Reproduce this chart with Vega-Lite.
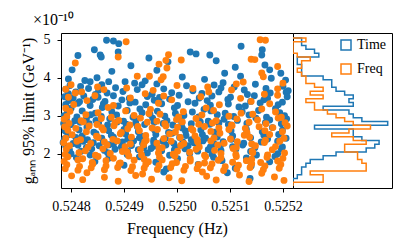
{
"$schema":"https://vega.github.io/schema/vega-lite/v6.json",
"padding":{"left":19,"top":11,"right":17,"bottom":5},
"background":"white",
"spacing":0,
"bounds":"flush",
"config":{"font":"Liberation Serif","view":{"stroke":"black","strokeWidth":1},
"axis":{"domain":false,"grid":false,"labelFont":"Liberation Serif","labelFontSize":14,"labelColor":"black","tickColor":"black","tickSize":4,"tickWidth":1,"labelPadding":7,"titleFont":"Liberation Serif","titleFontSize":16,"titleFontWeight":"normal","titleColor":"black","titlePadding":7},
"concat":{"spacing":0}},
"datasets":{
"pts":[
{"s":"Time","f":0.524867,"g":4.99},{"s":"Time","f":0.52488,"g":4.97},{"s":"Time","f":0.52489,"g":4.9},{"s":"Time","f":0.524844,"g":4.74},{"s":"Time","f":0.524855,"g":4.6},{"s":"Time","f":0.524857,"g":4.55},{"s":"Time","f":0.524889,"g":4.68},{"s":"Time","f":0.524813,"g":4.59},{"s":"Time","f":0.525025,"g":4.68},{"s":"Time","f":0.525036,"g":4.63},{"s":"Time","f":0.525121,"g":4.83},{"s":"Time","f":0.525161,"g":4.74},{"s":"Time","f":0.52516,"g":4.6},{"s":"Time","f":0.525062,"g":4.6},{"s":"Time","f":0.525074,"g":4.45},{"s":"Time","f":0.524947,"g":4.52},{"s":"Time","f":0.524802,"g":4.21},{"s":"Time","f":0.524877,"g":4.17},{"s":"Time","f":0.524913,"g":4.32},{"s":"Time","f":0.524962,"g":4.2},{"s":"Time","f":0.524983,"g":4.42},{"s":"Time","f":0.52511,"g":4.28},{"s":"Time","f":0.525166,"g":4.34},{"s":"Time","f":0.525175,"g":4.21},{"s":"Time","f":0.525196,"g":4.12},{"s":"Time","f":0.52509,"g":4.12},{"s":"Time","f":0.524849,"g":4.0},
{"s":"Time","f":0.524826,"g":3.93},{"s":"Time","f":0.524836,"g":3.9},{"s":"Time","f":0.524871,"g":3.9},{"s":"Time","f":0.524902,"g":3.9},{"s":"Time","f":0.52494,"g":3.92},{"s":"Time","f":0.52501,"g":4.02},{"s":"Time","f":0.525087,"g":3.87},{"s":"Time","f":0.52512,"g":4.04},{"s":"Time","f":0.525178,"g":3.99},{"s":"Time","f":0.525205,"g":3.94},{"s":"Time","f":0.525052,"g":3.96},{"s":"Time","f":0.524795,"g":3.97},{"s":"Time","f":0.52492,"g":3.86},
{"s":"Time","f":0.524798,"g":3.8},{"s":"Time","f":0.524818,"g":3.77},{"s":"Time","f":0.524858,"g":3.82},{"s":"Time","f":0.524934,"g":3.82},{"s":"Time","f":0.524962,"g":3.84},{"s":"Time","f":0.525018,"g":3.79},{"s":"Time","f":0.52507,"g":3.81},{"s":"Time","f":0.525108,"g":3.76},{"s":"Time","f":0.525148,"g":3.83},{"s":"Time","f":0.5252,"g":3.78},
{"s":"Time","f":0.52479,"g":3.7},{"s":"Time","f":0.524833,"g":3.72},{"s":"Time","f":0.524852,"g":3.67},{"s":"Time","f":0.524884,"g":3.74},{"s":"Time","f":0.524925,"g":3.69},{"s":"Time","f":0.524975,"g":3.71},{"s":"Time","f":0.52503,"g":3.66},{"s":"Time","f":0.525083,"g":3.73},{"s":"Time","f":0.525127,"g":3.68},{"s":"Time","f":0.525168,"g":3.72},{"s":"Time","f":0.52521,"g":3.66},
{"s":"Time","f":0.524795,"g":3.58},{"s":"Time","f":0.524809,"g":3.63},{"s":"Time","f":0.524846,"g":3.56},{"s":"Time","f":0.524868,"g":3.6},{"s":"Time","f":0.524898,"g":3.64},{"s":"Time","f":0.524953,"g":3.57},{"s":"Time","f":0.52499,"g":3.61},{"s":"Time","f":0.525047,"g":3.59},{"s":"Time","f":0.525079,"g":3.63},{"s":"Time","f":0.525133,"g":3.56},{"s":"Time","f":0.525176,"g":3.6},{"s":"Time","f":0.525206,"g":3.62},
{"s":"Time","f":0.524788,"g":3.5},{"s":"Time","f":0.524804,"g":3.47},{"s":"Time","f":0.524824,"g":3.52},{"s":"Time","f":0.524851,"g":3.49},{"s":"Time","f":0.52488,"g":3.53},{"s":"Time","f":0.52491,"g":3.46},{"s":"Time","f":0.524944,"g":3.51},{"s":"Time","f":0.524967,"g":3.48},{"s":"Time","f":0.525004,"g":3.54},{"s":"Time","f":0.525042,"g":3.47},{"s":"Time","f":0.525066,"g":3.52},{"s":"Time","f":0.525101,"g":3.49},{"s":"Time","f":0.525146,"g":3.53},{"s":"Time","f":0.525171,"g":3.46},{"s":"Time","f":0.525208,"g":3.5},
{"s":"Time","f":0.524796,"g":3.4},{"s":"Time","f":0.524816,"g":3.37},{"s":"Time","f":0.524841,"g":3.43},{"s":"Time","f":0.524864,"g":3.38},{"s":"Time","f":0.524896,"g":3.42},{"s":"Time","f":0.524921,"g":3.36},{"s":"Time","f":0.524957,"g":3.41},{"s":"Time","f":0.524986,"g":3.44},{"s":"Time","f":0.525021,"g":3.37},{"s":"Time","f":0.525057,"g":3.4},{"s":"Time","f":0.525096,"g":3.43},{"s":"Time","f":0.525139,"g":3.38},{"s":"Time","f":0.525164,"g":3.42},{"s":"Time","f":0.525199,"g":3.36},
{"s":"Time","f":0.52479,"g":3.3},{"s":"Time","f":0.524813,"g":3.33},{"s":"Time","f":0.524836,"g":3.27},{"s":"Time","f":0.524861,"g":3.31},{"s":"Time","f":0.524889,"g":3.26},{"s":"Time","f":0.524911,"g":3.34},{"s":"Time","f":0.524941,"g":3.29},{"s":"Time","f":0.524971,"g":3.32},{"s":"Time","f":0.525001,"g":3.27},{"s":"Time","f":0.525034,"g":3.33},{"s":"Time","f":0.525063,"g":3.28},{"s":"Time","f":0.525097,"g":3.31},{"s":"Time","f":0.525129,"g":3.26},{"s":"Time","f":0.525157,"g":3.34},{"s":"Time","f":0.525191,"g":3.29},
{"s":"Time","f":0.5248,"g":3.2},{"s":"Time","f":0.524859,"g":3.22},{"s":"Time","f":0.52493,"g":3.18},{"s":"Time","f":0.524995,"g":3.21},{"s":"Time","f":0.525051,"g":3.17},{"s":"Time","f":0.525117,"g":3.23},{"s":"Time","f":0.525186,"g":3.19},
{"s":"Time","f":0.524793,"g":3.1},{"s":"Time","f":0.524821,"g":3.13},{"s":"Time","f":0.524846,"g":3.07},{"s":"Time","f":0.524877,"g":3.11},{"s":"Time","f":0.524906,"g":3.14},{"s":"Time","f":0.524934,"g":3.08},{"s":"Time","f":0.524963,"g":3.12},{"s":"Time","f":0.524997,"g":3.06},{"s":"Time","f":0.525029,"g":3.1},{"s":"Time","f":0.525064,"g":3.13},{"s":"Time","f":0.525091,"g":3.07},{"s":"Time","f":0.525123,"g":3.11},{"s":"Time","f":0.525154,"g":3.14},{"s":"Time","f":0.525194,"g":3.08},
{"s":"Time","f":0.524787,"g":3.0},{"s":"Time","f":0.524811,"g":2.97},{"s":"Time","f":0.524837,"g":3.03},{"s":"Time","f":0.524857,"g":2.98},{"s":"Time","f":0.524886,"g":3.02},{"s":"Time","f":0.524917,"g":2.96},{"s":"Time","f":0.524949,"g":3.04},{"s":"Time","f":0.524977,"g":2.99},{"s":"Time","f":0.525013,"g":3.01},{"s":"Time","f":0.525041,"g":2.97},{"s":"Time","f":0.525076,"g":3.03},{"s":"Time","f":0.525107,"g":2.98},{"s":"Time","f":0.525136,"g":3.02},{"s":"Time","f":0.525169,"g":2.96},{"s":"Time","f":0.525203,"g":3.0},
{"s":"Time","f":0.524791,"g":2.9},{"s":"Time","f":0.524807,"g":2.87},{"s":"Time","f":0.524829,"g":2.93},{"s":"Time","f":0.524847,"g":2.88},{"s":"Time","f":0.524873,"g":2.92},{"s":"Time","f":0.524899,"g":2.86},{"s":"Time","f":0.524923,"g":2.91},{"s":"Time","f":0.524954,"g":2.94},{"s":"Time","f":0.524981,"g":2.87},{"s":"Time","f":0.525007,"g":2.9},{"s":"Time","f":0.525039,"g":2.93},{"s":"Time","f":0.525059,"g":2.86},{"s":"Time","f":0.525089,"g":2.91},{"s":"Time","f":0.525114,"g":2.88},{"s":"Time","f":0.525149,"g":2.94},{"s":"Time","f":0.525175,"g":2.89},{"s":"Time","f":0.525207,"g":2.92},
{"s":"Time","f":0.524786,"g":2.8},{"s":"Time","f":0.5248,"g":2.77},{"s":"Time","f":0.524817,"g":2.83},{"s":"Time","f":0.524834,"g":2.79},{"s":"Time","f":0.524852,"g":2.82},{"s":"Time","f":0.524869,"g":2.76},{"s":"Time","f":0.524887,"g":2.84},{"s":"Time","f":0.524904,"g":2.78},{"s":"Time","f":0.524922,"g":2.81},{"s":"Time","f":0.524939,"g":2.77},{"s":"Time","f":0.524957,"g":2.83},{"s":"Time","f":0.524974,"g":2.8},{"s":"Time","f":0.524992,"g":2.76},{"s":"Time","f":0.525009,"g":2.82},{"s":"Time","f":0.525027,"g":2.79},{"s":"Time","f":0.525044,"g":2.84},{"s":"Time","f":0.525062,"g":2.78},{"s":"Time","f":0.525079,"g":2.81},{"s":"Time","f":0.525097,"g":2.77},{"s":"Time","f":0.525132,"g":2.8},{"s":"Time","f":0.525167,"g":2.82},{"s":"Time","f":0.525197,"g":2.79},
{"s":"Time","f":0.52483,"g":2.7},{"s":"Time","f":0.524925,"g":2.72},{"s":"Time","f":0.52501,"g":2.68},{"s":"Time","f":0.5251,"g":2.71},{"s":"Time","f":0.52518,"g":2.69},
{"s":"Time","f":0.524789,"g":2.6},{"s":"Time","f":0.524815,"g":2.63},{"s":"Time","f":0.524843,"g":2.57},{"s":"Time","f":0.524871,"g":2.61},{"s":"Time","f":0.5249,"g":2.64},{"s":"Time","f":0.524927,"g":2.58},{"s":"Time","f":0.524958,"g":2.62},{"s":"Time","f":0.524984,"g":2.56},{"s":"Time","f":0.525016,"g":2.6},{"s":"Time","f":0.525045,"g":2.63},{"s":"Time","f":0.525071,"g":2.57},{"s":"Time","f":0.525102,"g":2.61},{"s":"Time","f":0.525131,"g":2.64},{"s":"Time","f":0.525161,"g":2.58},{"s":"Time","f":0.525199,"g":2.62},
{"s":"Time","f":0.524794,"g":2.5},{"s":"Time","f":0.524821,"g":2.47},{"s":"Time","f":0.524847,"g":2.53},{"s":"Time","f":0.524876,"g":2.49},{"s":"Time","f":0.524903,"g":2.52},{"s":"Time","f":0.524933,"g":2.46},{"s":"Time","f":0.52496,"g":2.51},{"s":"Time","f":0.524991,"g":2.54},{"s":"Time","f":0.525017,"g":2.48},{"s":"Time","f":0.525048,"g":2.5},{"s":"Time","f":0.525075,"g":2.53},{"s":"Time","f":0.525105,"g":2.47},{"s":"Time","f":0.525132,"g":2.52},{"s":"Time","f":0.525164,"g":2.49},{"s":"Time","f":0.525192,"g":2.51},
{"s":"Time","f":0.524788,"g":2.4},{"s":"Time","f":0.524809,"g":2.43},{"s":"Time","f":0.524831,"g":2.37},{"s":"Time","f":0.524858,"g":2.41},{"s":"Time","f":0.52488,"g":2.44},{"s":"Time","f":0.524907,"g":2.38},{"s":"Time","f":0.524929,"g":2.42},{"s":"Time","f":0.524956,"g":2.36},{"s":"Time","f":0.524978,"g":2.4},{"s":"Time","f":0.525005,"g":2.43},{"s":"Time","f":0.525027,"g":2.37},{"s":"Time","f":0.525054,"g":2.41},{"s":"Time","f":0.525076,"g":2.44},{"s":"Time","f":0.525103,"g":2.38},{"s":"Time","f":0.525139,"g":2.42},{"s":"Time","f":0.525171,"g":2.39},{"s":"Time","f":0.525206,"g":2.41},
{"s":"Time","f":0.524785,"g":2.3},{"s":"Time","f":0.524804,"g":2.27},{"s":"Time","f":0.524823,"g":2.33},{"s":"Time","f":0.524842,"g":2.29},{"s":"Time","f":0.524861,"g":2.32},{"s":"Time","f":0.52488,"g":2.26},{"s":"Time","f":0.524897,"g":2.31},{"s":"Time","f":0.524918,"g":2.34},{"s":"Time","f":0.524935,"g":2.28},{"s":"Time","f":0.524956,"g":2.3},{"s":"Time","f":0.524973,"g":2.33},{"s":"Time","f":0.524994,"g":2.27},{"s":"Time","f":0.525011,"g":2.31},{"s":"Time","f":0.525032,"g":2.29},{"s":"Time","f":0.525049,"g":2.34},{"s":"Time","f":0.52507,"g":2.26},{"s":"Time","f":0.525087,"g":2.32},{"s":"Time","f":0.525126,"g":2.28},{"s":"Time","f":0.525159,"g":2.31},{"s":"Time","f":0.52519,"g":2.33},
{"s":"Time","f":0.52479,"g":2.2},{"s":"Time","f":0.524813,"g":2.23},{"s":"Time","f":0.524829,"g":2.17},{"s":"Time","f":0.524853,"g":2.21},{"s":"Time","f":0.524872,"g":2.24},{"s":"Time","f":0.524895,"g":2.18},{"s":"Time","f":0.524914,"g":2.22},{"s":"Time","f":0.524937,"g":2.16},{"s":"Time","f":0.524956,"g":2.2},{"s":"Time","f":0.524979,"g":2.23},{"s":"Time","f":0.524998,"g":2.17},{"s":"Time","f":0.525021,"g":2.21},{"s":"Time","f":0.52504,"g":2.24},{"s":"Time","f":0.525063,"g":2.18},{"s":"Time","f":0.525082,"g":2.22},{"s":"Time","f":0.525105,"g":2.19},{"s":"Time","f":0.525124,"g":2.23},{"s":"Time","f":0.525147,"g":2.16},{"s":"Time","f":0.525199,"g":2.18},
{"s":"Time","f":0.524797,"g":2.1},{"s":"Time","f":0.524819,"g":2.07},{"s":"Time","f":0.524839,"g":2.13},{"s":"Time","f":0.524863,"g":2.09},{"s":"Time","f":0.524883,"g":2.12},{"s":"Time","f":0.524907,"g":2.06},{"s":"Time","f":0.524927,"g":2.11},{"s":"Time","f":0.524951,"g":2.14},{"s":"Time","f":0.524971,"g":2.08},{"s":"Time","f":0.524995,"g":2.1},{"s":"Time","f":0.525015,"g":2.13},{"s":"Time","f":0.525039,"g":2.07},{"s":"Time","f":0.525059,"g":2.11},{"s":"Time","f":0.525083,"g":2.09},{"s":"Time","f":0.525111,"g":2.12},{"s":"Time","f":0.525139,"g":2.06},{"s":"Time","f":0.525197,"g":2.13},
{"s":"Time","f":0.5248,"g":2.0},{"s":"Time","f":0.524836,"g":1.97},{"s":"Time","f":0.524869,"g":2.03},{"s":"Time","f":0.524906,"g":1.98},{"s":"Time","f":0.524944,"g":2.02},{"s":"Time","f":0.524986,"g":1.96},{"s":"Time","f":0.525024,"g":2.01},{"s":"Time","f":0.525066,"g":1.99},{"s":"Time","f":0.52515,"g":1.97},{"s":"Time","f":0.52519,"g":2.0},
{"s":"Time","f":0.52481,"g":1.9},{"s":"Time","f":0.524871,"g":1.88},{"s":"Time","f":0.524929,"g":1.92},{"s":"Time","f":0.525001,"g":1.87},{"s":"Time","f":0.525069,"g":1.91},{"s":"Time","f":0.525131,"g":1.89},{"s":"Time","f":0.525185,"g":1.93},
{"s":"Time","f":0.524845,"g":1.8},{"s":"Time","f":0.52496,"g":1.78},{"s":"Time","f":0.525085,"g":1.82},{"s":"Time","f":0.525175,"g":1.79},
{"s":"Time","f":0.5249,"g":1.7},{"s":"Time","f":0.52504,"g":1.72},{"s":"Time","f":0.52514,"g":1.68},
{"s":"Time","f":0.52498,"g":1.6},{"s":"Time","f":0.52511,"g":1.62},
{"s":"Time","f":0.525095,"g":1.5},{"s":"Time","f":0.524975,"g":1.52},
{"s":"Time","f":0.525138,"g":1.35},
{"s":"Freq","f":0.525157,"g":5.0},{"s":"Freq","f":0.525167,"g":4.99},{"s":"Freq","f":0.524904,"g":4.95},{"s":"Freq","f":0.524984,"g":4.61},{"s":"Freq","f":0.524889,"g":4.55},{"s":"Freq","f":0.525008,"g":4.47},{"s":"Freq","f":0.52514,"g":4.49},{"s":"Freq","f":0.525147,"g":4.48},{"s":"Freq","f":0.524808,"g":4.39},{"s":"Freq","f":0.524979,"g":4.46},{"s":"Freq","f":0.524966,"g":4.36},{"s":"Freq","f":0.524981,"g":4.26},{"s":"Freq","f":0.52516,"g":4.13},{"s":"Freq","f":0.525163,"g":4.03},{"s":"Freq","f":0.524925,"g":4.04},{"s":"Freq","f":0.52497,"g":3.95},{"s":"Freq","f":0.524974,"g":4.03},{"s":"Freq","f":0.524948,"g":4.04},{"s":"Freq","f":0.52519,"g":4.3},
{"s":"Freq","f":0.525058,"g":3.76},{"s":"Freq","f":0.525112,"g":3.84},{"s":"Freq","f":0.525125,"g":3.89},{"s":"Freq","f":0.52485,"g":3.76},{"s":"Freq","f":0.5248,"g":3.82},{"s":"Freq","f":0.525,"g":3.8},{"s":"Freq","f":0.5252,"g":3.86},
{"s":"Freq","f":0.524862,"g":3.69},{"s":"Freq","f":0.525103,"g":3.68},{"s":"Freq","f":0.52479,"g":3.7},{"s":"Freq","f":0.524905,"g":3.73},{"s":"Freq","f":0.524955,"g":3.67},{"s":"Freq","f":0.52503,"g":3.72},{"s":"Freq","f":0.52519,"g":3.71},
{"s":"Freq","f":0.524808,"g":3.6},{"s":"Freq","f":0.52482,"g":3.63},{"s":"Freq","f":0.52494,"g":3.58},{"s":"Freq","f":0.52506,"g":3.63},{"s":"Freq","f":0.525165,"g":3.57},
{"s":"Freq","f":0.524795,"g":3.49},{"s":"Freq","f":0.524845,"g":3.53},{"s":"Freq","f":0.524912,"g":3.47},{"s":"Freq","f":0.524975,"g":3.52},{"s":"Freq","f":0.525045,"g":3.5},{"s":"Freq","f":0.52512,"g":3.46},{"s":"Freq","f":0.52519,"g":3.54},
{"s":"Freq","f":0.52483,"g":3.4},{"s":"Freq","f":0.52499,"g":3.42},{"s":"Freq","f":0.52514,"g":3.38},
{"s":"Freq","f":0.524805,"g":3.3},{"s":"Freq","f":0.52488,"g":3.27},{"s":"Freq","f":0.524965,"g":3.33},{"s":"Freq","f":0.52508,"g":3.29},{"s":"Freq","f":0.525175,"g":3.32},
{"s":"Freq","f":0.52479,"g":3.2},{"s":"Freq","f":0.52487,"g":3.22},{"s":"Freq","f":0.52495,"g":3.17},{"s":"Freq","f":0.525055,"g":3.21},{"s":"Freq","f":0.52516,"g":3.18},
{"s":"Freq","f":0.524798,"g":3.12},{"s":"Freq","f":0.524851,"g":3.08},{"s":"Freq","f":0.524903,"g":3.13},{"s":"Freq","f":0.524947,"g":3.06},{"s":"Freq","f":0.525012,"g":3.11},{"s":"Freq","f":0.525069,"g":3.14},{"s":"Freq","f":0.525121,"g":3.07},{"s":"Freq","f":0.525186,"g":3.1},
{"s":"Freq","f":0.524792,"g":2.98},{"s":"Freq","f":0.524828,"g":3.03},{"s":"Freq","f":0.524876,"g":2.96},{"s":"Freq","f":0.524919,"g":3.01},{"s":"Freq","f":0.524968,"g":3.04},{"s":"Freq","f":0.525003,"g":2.97},{"s":"Freq","f":0.525047,"g":3.02},{"s":"Freq","f":0.525098,"g":2.99},{"s":"Freq","f":0.525143,"g":3.04},{"s":"Freq","f":0.525197,"g":2.96},
{"s":"Freq","f":0.524787,"g":2.91},{"s":"Freq","f":0.524819,"g":2.87},{"s":"Freq","f":0.524857,"g":2.93},{"s":"Freq","f":0.52489,"g":2.88},{"s":"Freq","f":0.524931,"g":2.94},{"s":"Freq","f":0.524962,"g":2.86},{"s":"Freq","f":0.524999,"g":2.9},{"s":"Freq","f":0.525036,"g":2.93},{"s":"Freq","f":0.525074,"g":2.87},{"s":"Freq","f":0.525113,"g":2.92},{"s":"Freq","f":0.525152,"g":2.89},{"s":"Freq","f":0.525191,"g":2.94},
{"s":"Freq","f":0.524796,"g":2.8},{"s":"Freq","f":0.524823,"g":2.84},{"s":"Freq","f":0.524849,"g":2.77},{"s":"Freq","f":0.524883,"g":2.82},{"s":"Freq","f":0.524911,"g":2.76},{"s":"Freq","f":0.524944,"g":2.83},{"s":"Freq","f":0.524977,"g":2.79},{"s":"Freq","f":0.52501,"g":2.84},{"s":"Freq","f":0.525041,"g":2.78},{"s":"Freq","f":0.525067,"g":2.81},{"s":"Freq","f":0.525103,"g":2.76},{"s":"Freq","f":0.525136,"g":2.83},{"s":"Freq","f":0.525168,"g":2.79},{"s":"Freq","f":0.525204,"g":2.82},
{"s":"Freq","f":0.524788,"g":2.71},{"s":"Freq","f":0.524809,"g":2.67},{"s":"Freq","f":0.524834,"g":2.73},{"s":"Freq","f":0.524858,"g":2.69},{"s":"Freq","f":0.524881,"g":2.74},{"s":"Freq","f":0.524907,"g":2.66},{"s":"Freq","f":0.524926,"g":2.72},{"s":"Freq","f":0.524953,"g":2.68},{"s":"Freq","f":0.524979,"g":2.73},{"s":"Freq","f":0.525001,"g":2.7},{"s":"Freq","f":0.525027,"g":2.66},{"s":"Freq","f":0.525052,"g":2.72},{"s":"Freq","f":0.525079,"g":2.68},{"s":"Freq","f":0.525104,"g":2.74},{"s":"Freq","f":0.525129,"g":2.67},{"s":"Freq","f":0.525155,"g":2.71},{"s":"Freq","f":0.525181,"g":2.69},{"s":"Freq","f":0.525208,"g":2.73},
{"s":"Freq","f":0.524794,"g":2.62},{"s":"Freq","f":0.524829,"g":2.58},{"s":"Freq","f":0.524861,"g":2.63},{"s":"Freq","f":0.524895,"g":2.56},{"s":"Freq","f":0.524929,"g":2.61},{"s":"Freq","f":0.524963,"g":2.64},{"s":"Freq","f":0.524997,"g":2.57},{"s":"Freq","f":0.52503,"g":2.62},{"s":"Freq","f":0.525064,"g":2.59},{"s":"Freq","f":0.525098,"g":2.64},{"s":"Freq","f":0.525132,"g":2.56},{"s":"Freq","f":0.525166,"g":2.61},{"s":"Freq","f":0.525199,"g":2.58},
{"s":"Freq","f":0.524802,"g":2.5},{"s":"Freq","f":0.524848,"g":2.46},{"s":"Freq","f":0.524893,"g":2.53},{"s":"Freq","f":0.524941,"g":2.48},{"s":"Freq","f":0.524986,"g":2.52},{"s":"Freq","f":0.525034,"g":2.47},{"s":"Freq","f":0.525081,"g":2.54},{"s":"Freq","f":0.525127,"g":2.49},{"s":"Freq","f":0.525175,"g":2.51},
{"s":"Freq","f":0.52479,"g":2.41},{"s":"Freq","f":0.524818,"g":2.37},{"s":"Freq","f":0.524851,"g":2.43},{"s":"Freq","f":0.524879,"g":2.38},{"s":"Freq","f":0.524914,"g":2.44},{"s":"Freq","f":0.524942,"g":2.36},{"s":"Freq","f":0.524975,"g":2.4},{"s":"Freq","f":0.525006,"g":2.43},{"s":"Freq","f":0.525038,"g":2.37},{"s":"Freq","f":0.52507,"g":2.42},{"s":"Freq","f":0.525101,"g":2.39},{"s":"Freq","f":0.525137,"g":2.44},{"s":"Freq","f":0.525167,"g":2.36},{"s":"Freq","f":0.525202,"g":2.41},
{"s":"Freq","f":0.524786,"g":2.29},{"s":"Freq","f":0.524811,"g":2.33},{"s":"Freq","f":0.524837,"g":2.27},{"s":"Freq","f":0.524863,"g":2.31},{"s":"Freq","f":0.524887,"g":2.34},{"s":"Freq","f":0.524912,"g":2.26},{"s":"Freq","f":0.524939,"g":2.32},{"s":"Freq","f":0.524962,"g":2.28},{"s":"Freq","f":0.524989,"g":2.33},{"s":"Freq","f":0.525013,"g":2.27},{"s":"Freq","f":0.525039,"g":2.31},{"s":"Freq","f":0.525064,"g":2.34},{"s":"Freq","f":0.525089,"g":2.28},{"s":"Freq","f":0.525114,"g":2.32},{"s":"Freq","f":0.525141,"g":2.26},{"s":"Freq","f":0.525165,"g":2.3},{"s":"Freq","f":0.525194,"g":2.33},
{"s":"Freq","f":0.524797,"g":2.21},{"s":"Freq","f":0.524832,"g":2.17},{"s":"Freq","f":0.524868,"g":2.23},{"s":"Freq","f":0.524902,"g":2.19},{"s":"Freq","f":0.524937,"g":2.24},{"s":"Freq","f":0.524972,"g":2.16},{"s":"Freq","f":0.525007,"g":2.22},{"s":"Freq","f":0.525042,"g":2.18},{"s":"Freq","f":0.525077,"g":2.23},{"s":"Freq","f":0.525112,"g":2.17},{"s":"Freq","f":0.525148,"g":2.21},{"s":"Freq","f":0.525186,"g":2.19},
{"s":"Freq","f":0.524791,"g":2.12},{"s":"Freq","f":0.524827,"g":2.08},{"s":"Freq","f":0.52486,"g":2.13},{"s":"Freq","f":0.524897,"g":2.06},{"s":"Freq","f":0.524931,"g":2.11},{"s":"Freq","f":0.524966,"g":2.14},{"s":"Freq","f":0.525001,"g":2.07},{"s":"Freq","f":0.525036,"g":2.12},{"s":"Freq","f":0.525071,"g":2.09},{"s":"Freq","f":0.525106,"g":2.14},{"s":"Freq","f":0.525142,"g":2.06},{"s":"Freq","f":0.52518,"g":2.11},
{"s":"Freq","f":0.524789,"g":1.98},{"s":"Freq","f":0.524815,"g":2.03},{"s":"Freq","f":0.524846,"g":1.96},{"s":"Freq","f":0.524874,"g":2.01},{"s":"Freq","f":0.524906,"g":2.04},{"s":"Freq","f":0.524933,"g":1.97},{"s":"Freq","f":0.524965,"g":2.02},{"s":"Freq","f":0.524993,"g":1.99},{"s":"Freq","f":0.525024,"g":2.04},{"s":"Freq","f":0.525052,"g":1.96},{"s":"Freq","f":0.525083,"g":2.01},{"s":"Freq","f":0.525111,"g":1.98},{"s":"Freq","f":0.525143,"g":2.03},{"s":"Freq","f":0.525171,"g":1.97},{"s":"Freq","f":0.525203,"g":2.02},
{"s":"Freq","f":0.524794,"g":1.92},{"s":"Freq","f":0.524822,"g":1.87},{"s":"Freq","f":0.524851,"g":1.93},{"s":"Freq","f":0.52488,"g":1.88},{"s":"Freq","f":0.524909,"g":1.94},{"s":"Freq","f":0.524938,"g":1.86},{"s":"Freq","f":0.524967,"g":1.91},{"s":"Freq","f":0.524996,"g":1.94},{"s":"Freq","f":0.525025,"g":1.87},{"s":"Freq","f":0.525054,"g":1.92},{"s":"Freq","f":0.525083,"g":1.89},{"s":"Freq","f":0.525112,"g":1.93},{"s":"Freq","f":0.525141,"g":1.86},{"s":"Freq","f":0.52517,"g":1.91},{"s":"Freq","f":0.5252,"g":1.88},
{"s":"Freq","f":0.524787,"g":1.8},{"s":"Freq","f":0.524813,"g":1.84},{"s":"Freq","f":0.52484,"g":1.77},{"s":"Freq","f":0.524866,"g":1.82},{"s":"Freq","f":0.524893,"g":1.76},{"s":"Freq","f":0.524919,"g":1.83},{"s":"Freq","f":0.524946,"g":1.79},{"s":"Freq","f":0.524972,"g":1.84},{"s":"Freq","f":0.524999,"g":1.77},{"s":"Freq","f":0.525025,"g":1.81},{"s":"Freq","f":0.525052,"g":1.76},{"s":"Freq","f":0.525078,"g":1.83},{"s":"Freq","f":0.525105,"g":1.78},{"s":"Freq","f":0.525131,"g":1.82},{"s":"Freq","f":0.525158,"g":1.77},{"s":"Freq","f":0.52519,"g":1.81},
{"s":"Freq","f":0.524792,"g":1.71},{"s":"Freq","f":0.524816,"g":1.67},{"s":"Freq","f":0.524841,"g":1.73},{"s":"Freq","f":0.524866,"g":1.68},{"s":"Freq","f":0.524891,"g":1.74},{"s":"Freq","f":0.524916,"g":1.66},{"s":"Freq","f":0.524941,"g":1.72},{"s":"Freq","f":0.524966,"g":1.69},{"s":"Freq","f":0.524991,"g":1.74},{"s":"Freq","f":0.525016,"g":1.67},{"s":"Freq","f":0.525041,"g":1.71},{"s":"Freq","f":0.525066,"g":1.73},{"s":"Freq","f":0.525091,"g":1.66},{"s":"Freq","f":0.525116,"g":1.7},{"s":"Freq","f":0.525141,"g":1.74},{"s":"Freq","f":0.525166,"g":1.68},{"s":"Freq","f":0.525196,"g":1.72},
{"s":"Freq","f":0.524789,"g":1.61},{"s":"Freq","f":0.524813,"g":1.57},{"s":"Freq","f":0.524838,"g":1.63},{"s":"Freq","f":0.524863,"g":1.58},{"s":"Freq","f":0.524888,"g":1.64},{"s":"Freq","f":0.524913,"g":1.56},{"s":"Freq","f":0.524938,"g":1.62},{"s":"Freq","f":0.524963,"g":1.59},{"s":"Freq","f":0.524988,"g":1.64},{"s":"Freq","f":0.525013,"g":1.57},{"s":"Freq","f":0.525038,"g":1.61},{"s":"Freq","f":0.525063,"g":1.63},{"s":"Freq","f":0.525088,"g":1.56},{"s":"Freq","f":0.525113,"g":1.6},{"s":"Freq","f":0.525138,"g":1.64},{"s":"Freq","f":0.525163,"g":1.58},{"s":"Freq","f":0.525193,"g":1.62},
{"s":"Freq","f":0.52483,"g":1.5},{"s":"Freq","f":0.524935,"g":1.47},{"s":"Freq","f":0.525048,"g":1.52},{"s":"Freq","f":0.52516,"g":1.49},
{"s":"Freq","f":0.524801,"g":1.42},{"s":"Freq","f":0.524863,"g":1.38},{"s":"Freq","f":0.524922,"g":1.43},{"s":"Freq","f":0.524985,"g":1.37},{"s":"Freq","f":0.525056,"g":1.41},{"s":"Freq","f":0.525118,"g":1.44},{"s":"Freq","f":0.525184,"g":1.39},
{"s":"Freq","f":0.524822,"g":1.32},{"s":"Freq","f":0.524889,"g":1.28},{"s":"Freq","f":0.524952,"g":1.33},{"s":"Freq","f":0.525009,"g":1.29},{"s":"Freq","f":0.525074,"g":1.31},{"s":"Freq","f":0.525136,"g":1.27},{"s":"Freq","f":0.525202,"g":1.3}
],
"hist":[
{"s":"Time","y0":1.15,"n":0},{"s":"Time","y0":1.25,"n":0},{"s":"Time","y0":1.35,"n":1},{"s":"Time","y0":1.45,"n":2},{"s":"Time","y0":1.55,"n":2},{"s":"Time","y0":1.65,"n":3},{"s":"Time","y0":1.75,"n":4},{"s":"Time","y0":1.85,"n":7},{"s":"Time","y0":1.95,"n":10},{"s":"Time","y0":2.05,"n":17},{"s":"Time","y0":2.15,"n":19},{"s":"Time","y0":2.25,"n":20},{"s":"Time","y0":2.35,"n":16},{"s":"Time","y0":2.45,"n":14},{"s":"Time","y0":2.55,"n":14},{"s":"Time","y0":2.65,"n":5},{"s":"Time","y0":2.75,"n":22},{"s":"Time","y0":2.85,"n":16},{"s":"Time","y0":2.95,"n":14},{"s":"Time","y0":3.05,"n":13},{"s":"Time","y0":3.15,"n":7},{"s":"Time","y0":3.25,"n":14},{"s":"Time","y0":3.35,"n":13},{"s":"Time","y0":3.45,"n":14},{"s":"Time","y0":3.55,"n":12},{"s":"Time","y0":3.65,"n":10},{"s":"Time","y0":3.75,"n":9},{"s":"Time","y0":3.85,"n":9},{"s":"Time","y0":3.95,"n":7},{"s":"Time","y0":4.05,"n":2},{"s":"Time","y0":4.15,"n":2},{"s":"Time","y0":4.25,"n":2},{"s":"Time","y0":4.35,"n":1},{"s":"Time","y0":4.45,"n":1},{"s":"Time","y0":4.55,"n":6},{"s":"Time","y0":4.65,"n":5},{"s":"Time","y0":4.75,"n":3},{"s":"Time","y0":4.85,"n":2},{"s":"Time","y0":4.95,"n":2},{"s":"Time","y0":5.05,"n":0},
{"s":"Freq","y0":1.15,"n":0},{"s":"Freq","y0":1.25,"n":7},{"s":"Freq","y0":1.35,"n":7},{"s":"Freq","y0":1.45,"n":4},{"s":"Freq","y0":1.55,"n":17},{"s":"Freq","y0":1.65,"n":17},{"s":"Freq","y0":1.75,"n":16},{"s":"Freq","y0":1.85,"n":15},{"s":"Freq","y0":1.95,"n":15},{"s":"Freq","y0":2.05,"n":12},{"s":"Freq","y0":2.15,"n":12},{"s":"Freq","y0":2.25,"n":17},{"s":"Freq","y0":2.35,"n":14},{"s":"Freq","y0":2.45,"n":9},{"s":"Freq","y0":2.55,"n":13},{"s":"Freq","y0":2.65,"n":18},{"s":"Freq","y0":2.75,"n":14},{"s":"Freq","y0":2.85,"n":12},{"s":"Freq","y0":2.95,"n":10},{"s":"Freq","y0":3.05,"n":8},{"s":"Freq","y0":3.15,"n":5},{"s":"Freq","y0":3.25,"n":5},{"s":"Freq","y0":3.35,"n":3},{"s":"Freq","y0":3.45,"n":7},{"s":"Freq","y0":3.55,"n":4},{"s":"Freq","y0":3.65,"n":7},{"s":"Freq","y0":3.75,"n":5},{"s":"Freq","y0":3.85,"n":3},{"s":"Freq","y0":3.95,"n":3},{"s":"Freq","y0":4.05,"n":2},{"s":"Freq","y0":4.15,"n":1},{"s":"Freq","y0":4.25,"n":2},{"s":"Freq","y0":4.35,"n":2},{"s":"Freq","y0":4.45,"n":4},{"s":"Freq","y0":4.55,"n":1},{"s":"Freq","y0":4.65,"n":0},{"s":"Freq","y0":4.75,"n":0},{"s":"Freq","y0":4.85,"n":0},{"s":"Freq","y0":4.95,"n":3},{"s":"Freq","y0":5.05,"n":0}
]},
"hconcat":[
{"width":232,"height":155,
"title":{"text":"×10⁻¹⁰","anchor":"start","fontSize":16,"fontWeight":"normal","font":"Liberation Serif","color":"black","offset":5,"dx":13},
"data":{"name":"pts"},
"mark":{"type":"circle","size":48,"opacity":1},
"encoding":{
"x":{"field":"f","type":"quantitative","scale":{"domain":[0.524781,0.525219],"nice":false,"zero":false},"axis":{"values":[0.5248,0.5249,0.525,0.5251,0.5252],"format":".4f","title":"Frequency (Hz)"}},
"y":{"field":"g","type":"quantitative","scale":{"domain":[1.1,5.18],"nice":false,"zero":false},"axis":{"values":[2,3,4,5],"title":"gₐₙₙ 95% limit (GeV⁻¹)"}},
"color":{"field":"s","type":"nominal","scale":{"domain":["Time","Freq"],"range":["#1f77b4","#ff7f0e"]},"legend":null}
}},
{"width":99,"height":155,
"data":{"name":"hist"},
"mark":{"type":"line","strokeWidth":1.5,"interpolate":"step-before","clip":true},
"encoding":{
"x":{"field":"n","type":"quantitative","scale":{"domain":[0,23],"nice":false},"axis":null},
"y":{"field":"y0","type":"quantitative","scale":{"domain":[1.1,5.18],"nice":false,"zero":false},"axis":null},
"color":{"field":"s","type":"nominal","scale":{"domain":["Time","Freq"],"range":["#1f77b4","#ff7f0e"]},"legend":{"orient":"top-right","title":null,"symbolType":"square","symbolSize":100,"symbolStrokeWidth":1.5,"symbolFillColor":"transparent","labelFontSize":14,"labelFont":"Liberation Serif","labelColor":"black","offset":5,"rowPadding":8,"labelOffset":4,"padding":0}},
"order":{"field":"y0","type":"quantitative"}
}}
],
"resolve":{"legend":{"color":"independent"}}
}
